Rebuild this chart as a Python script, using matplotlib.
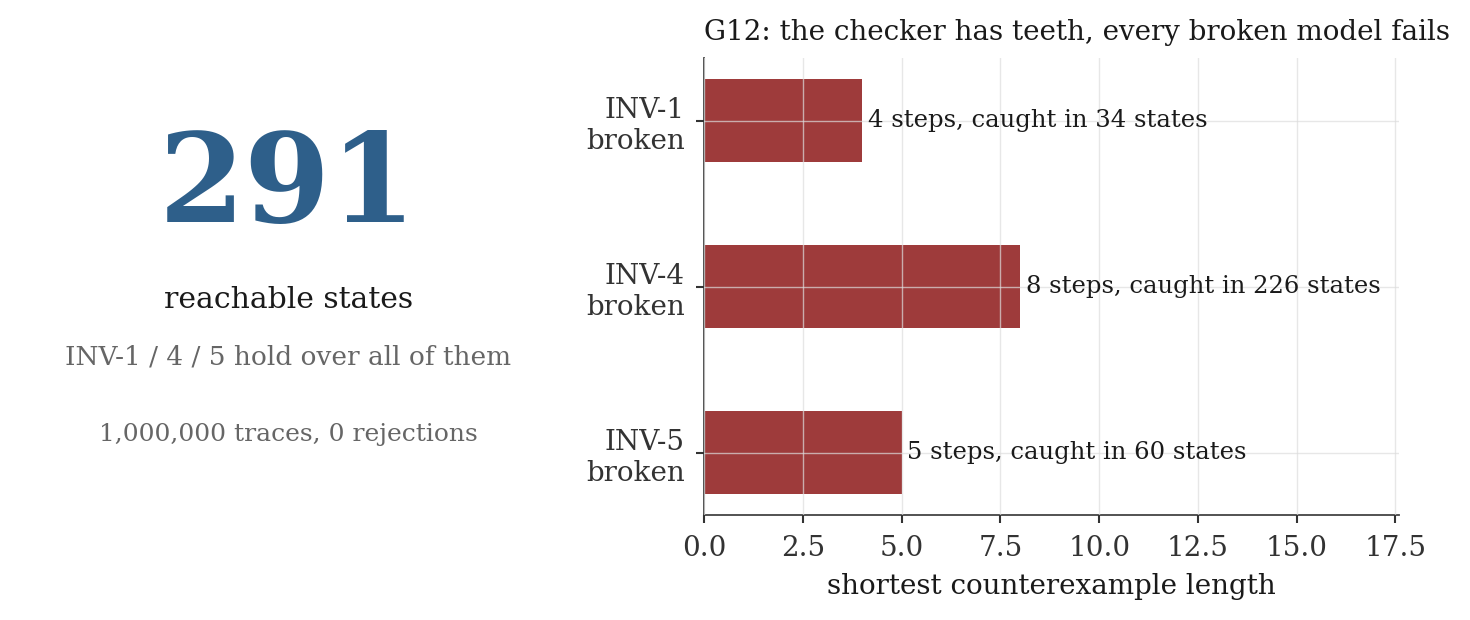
import matplotlib
matplotlib.use('Agg')
import matplotlib.pyplot as plt
from matplotlib.ticker import MultipleLocator

models = ['INV-1\nbroken', 'INV-4\nbroken', 'INV-5\nbroken']
steps = [4, 8, 5]
caught = [34, 226, 60]
reachable = 291
traces = '1,000,000'
rejections = 0

plt.rcParams['font.family'] = 'DejaVu Serif'

fig = plt.figure(figsize=(14.7, 6.2), dpi=100)

# left panel: headline numbers
fig.text(0.196, 0.697, str(reachable), ha='center', va='center', fontsize=89,
         fontweight='bold', color='#2e5f8a')
fig.text(0.196, 0.516, 'reachable states', ha='center', va='center', fontsize=21.5, color='#1a1a1a')
fig.text(0.196, 0.424, 'INV-1 / 4 / 5 hold over all of them', ha='center', va='center',
         fontsize=19, color='#666666')
fig.text(0.196, 0.30, '%s traces, %d rejections' % (traces, rejections), ha='center',
         va='center', fontsize=18, color='#666666')

# right panel: counterexample lengths
ax = fig.add_axes([0.479, 0.169, 0.473, 0.737])
y = list(range(len(models)))
ax.barh(y, steps, height=0.5, color='#9e3b3b', zorder=1)
ax.set_yticks(y)
ax.set_yticklabels(models, fontsize=20, color='#333333', ha='right', multialignment='right')
ax.invert_yaxis()
ax.set_xlim(0, max(steps) * 2.2)
ax.xaxis.set_major_locator(MultipleLocator(2.5))
ax.grid(True, color='#dddddd', alpha=0.7, linewidth=1, zorder=2)
ax.set_axisbelow(False)
for s in ['top', 'right']:
    ax.spines[s].set_visible(False)
for s in ['left', 'bottom']:
    ax.spines[s].set_color('#444444')
    ax.spines[s].set_linewidth(1.3)
ax.tick_params(axis='both', length=6, width=1.5, color='#333333', labelsize=20,
               labelcolor='#333333')
ax.tick_params(axis='y', pad=8)
ax.tick_params(axis='x', pad=8)
for yi, s, c in zip(y, steps, caught):
    ax.annotate('%d steps, caught in %d states' % (s, c), (s, yi), xytext=(4, 0),
                textcoords='offset points', va='center', ha='left', fontsize=17.5,
                color='#1a1a1a')
ax.set_xlabel('shortest counterexample length', fontsize=20, color='#1a1a1a', labelpad=8)
ax.set_title('G12: the checker has teeth, every broken model fails', loc='left',
             fontsize=20, color='#1a1a1a', pad=13)

fig.savefig('out.png', dpi=100)
